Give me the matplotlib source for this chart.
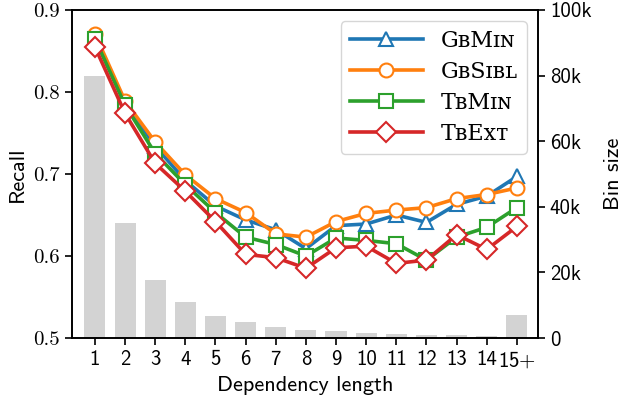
import matplotlib
matplotlib.use("Agg")
import matplotlib.pyplot as plt
from matplotlib.ticker import FixedLocator, FuncFormatter

plt.rcParams['mathtext.fontset'] = 'cm'
plt.rcParams['axes.unicode_minus'] = False

categories = [str(i) for i in range(1, 15)] + ["15+"]
gbmin  = [0.866, 0.787, 0.734, 0.692, 0.661, 0.644, 0.632, 0.609, 0.637, 0.639, 0.650, 0.641, 0.663, 0.673, 0.697]
gbsibl = [0.871, 0.789, 0.739, 0.699, 0.670, 0.653, 0.627, 0.623, 0.642, 0.652, 0.656, 0.659, 0.670, 0.675, 0.683]
tbmin  = [0.865, 0.784, 0.725, 0.687, 0.653, 0.623, 0.614, 0.600, 0.622, 0.619, 0.615, 0.595, 0.623, 0.635, 0.659]
tbext  = [0.855, 0.774, 0.713, 0.679, 0.642, 0.602, 0.598, 0.585, 0.610, 0.612, 0.591, 0.595, 0.626, 0.608, 0.636]
bin_size = [80000, 35100, 17800, 10900, 6800, 4800, 3300, 2450, 2000, 1600, 1300, 1000, 800, 600, 7000]
recall_ticks = [0.5, 0.6, 0.7, 0.8, 0.9]
bin_ticks = [0, 20000, 40000, 60000, 80000, 100000]

labels = ["G\u0299M\u026a\u0274", "G\u0299S\u026a\u0299\u029f", "T\u0299M\u026a\u0274", "T\u0299Ex\u1d1b"]
colors = ["#1f77b4", "#ff7f0e", "#2ca02c", "#d62728"]
markers = ["^", "o", "s", "D"]
series = [gbmin, gbsibl, tbmin, tbext]

FS = 15
LFS = 16
fig = plt.figure(figsize=(6.25, 4.05), dpi=100)
ax = fig.add_axes([72/625, 1-338/405, (538-72)/625, (338-10)/405])
ax2 = ax.twinx()

x = list(range(len(categories)))
ax2.bar(x, bin_size, width=0.7, color="#d3d3d3")
ax2.set_ylim(0, 100000)
ax2.yaxis.set_major_locator(FixedLocator(bin_ticks))
ax2.yaxis.set_major_formatter(FuncFormatter(lambda v, p: "0" if v == 0 else "%dk" % (v/1000)))
ax2.set_ylabel("Bin size", fontsize=LFS, fontfamily="cmss10", labelpad=9)

ax.set_zorder(ax2.get_zorder() + 1)
ax.patch.set_visible(False)

for s, lab, c, m in zip(series, labels, colors, markers):
    ax.plot(x, s, color=c, marker=m, markersize=10, markerfacecolor="white",
            markeredgecolor=c, markeredgewidth=1.5, linewidth=2.6, label=lab)

ax.set_xlim(-0.76, 14.7)
ax.set_ylim(0.5, 0.9)
ax.set_xticks(x)
ax.set_xticklabels([c if c != "15+" else r"15$+$" for c in categories])
ax.set_yticks(recall_ticks)
ax.set_yticklabels(["%.1f" % v for v in recall_ticks])
ax.set_xlabel("Dependency length", fontsize=LFS, fontfamily="cmss10", labelpad=4)
ax.set_ylabel("Recall", fontsize=LFS, fontfamily="cmss10", labelpad=5)

ax.tick_params(axis="x", labelsize=FS, labelfontfamily="cmss10", length=5, width=1.2)
ax.tick_params(axis="y", labelsize=FS, labelfontfamily="cmr10", length=5, width=1.2)
ax2.tick_params(axis="y", labelsize=FS, labelfontfamily="cmss10", length=5, width=1.2)
for a in (ax, ax2):
    for sp in a.spines.values():
        sp.set_linewidth(1.2)

leg = ax.legend(loc="upper right", handlelength=3.3,
                prop={"family": ["DejaVu Serif", "DejaVu Sans"], "size": 16},
                borderaxespad=0.5, labelspacing=0.4)

fig.savefig("out.png", dpi=100)
